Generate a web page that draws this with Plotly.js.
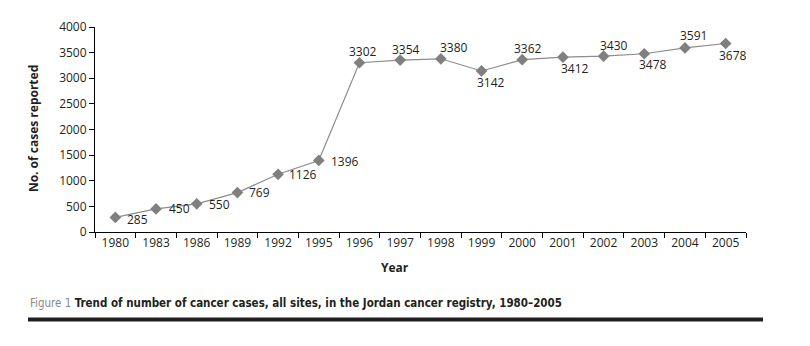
<!DOCTYPE html>
<html>
<head>
<meta charset="utf-8">
<script src="https://cdn.plot.ly/plotly-3.0.1.min.js"></script>
<style>html,body{margin:0;padding:0;background:#fff;}#chart{width:810px;height:346px;}</style>
</head>
<body>
<div id="chart"></div>
<script>
// Data
const years = ["1980","1983","1986","1989","1992","1995","1996","1997","1998","1999","2000","2001","2002","2003","2004","2005"];
const cases = [285,450,550,769,1126,1396,3302,3354,3380,3142,3362,3412,3430,3478,3591,3678];
const yTicks = [0,500,1000,1500,2000,2500,3000,3500,4000];

// Label placement (style only)
const labelSide = ["r","r","r","r","r","r","a","a","a","b","a","b","a","b","a","b"];
const labelDx = [10,11,10,10,9,10,4,6,13,9,6,12,10,9,9,7];
const labelDy = [-2,0,-1,0,0,-1,11,11,11,-12,11,-11,11,-11,12,-12];

const txt = "#231f20";
function tf() { return {family: "Open Sans, sans-serif", size: 12, color: txt}; }

const anns = years.map((yr, i) => ({
  x: i, y: cases[i], xref: "x", yref: "y", showarrow: false,
  text: String(cases[i]),
  xanchor: labelSide[i] === "r" ? "left" : "center",
  yanchor: "middle",
  xshift: labelDx[i], yshift: labelDy[i],
  font: tf()
}));

anns.push({
  xref: "paper", yref: "paper", x: 0.461, y: -0.1756, showarrow: false,
  text: "<b>Year</b>", xanchor: "center", yanchor: "middle",
  font: tf()
});
anns.push({
  xref: "paper", yref: "paper", x: -0.0952, y: 0.502, showarrow: false,
  text: "<b>No. of cases reported</b>", textangle: -90, xanchor: "center", yanchor: "middle",
  font: tf()
});
anns.push({
  xref: "paper", yref: "paper", x: -0.1029, y: -0.3463, showarrow: false,
  text: "<span style='color:#8a8a8a'>Figure 1</span> <b>Trend of number of cancer cases, all sites, in the Jordan cancer registry, 1980–2005</b>",
  xanchor: "left", yanchor: "middle",
  font: {family: "DejaVu Sans Condensed, sans-serif", size: 11.5, color: txt}
});

const trace = {
  x: years, y: cases, type: "scatter", mode: "lines+markers",
  line: {color: "#8c8c8c", width: 1.2},
  marker: {symbol: "diamond", size: 9, color: "#808080"},
  hoverinfo: "skip"
};

const layout = {
  width: 810, height: 346,
  margin: {l: 95, r: 64, t: 27, b: 114, pad: 0},
  paper_bgcolor: "#fff", plot_bgcolor: "#fff",
  showlegend: false,
  xaxis: {
    type: "category", range: [-0.5, 15.5], tickson: "boundaries",
    ticks: "outside", ticklen: 5, tickcolor: "#000", tickwidth: 1,
    showline: true, linecolor: "#000", linewidth: 1,
    showgrid: false, zeroline: false, tickfont: tf(), fixedrange: true
  },
  yaxis: {
    range: [0, 4000], tickvals: yTicks, ticktext: yTicks.map(String),
    ticks: "outside", ticklen: 5, tickcolor: "#000", tickwidth: 1,
    showline: true, linecolor: "#000", linewidth: 1,
    showgrid: false, zeroline: false, tickfont: tf(), fixedrange: true
  },
  annotations: anns,
  shapes: [{
    type: "line", xref: "paper", yref: "paper",
    x0: -0.1029, x1: 1.0261, y0: -0.4268, y1: -0.4268,
    line: {color: txt, width: 4}
  }]
};

Plotly.newPlot("chart", [trace], layout, {displayModeBar: false, staticPlot: true});
</script>
</body>
</html>
